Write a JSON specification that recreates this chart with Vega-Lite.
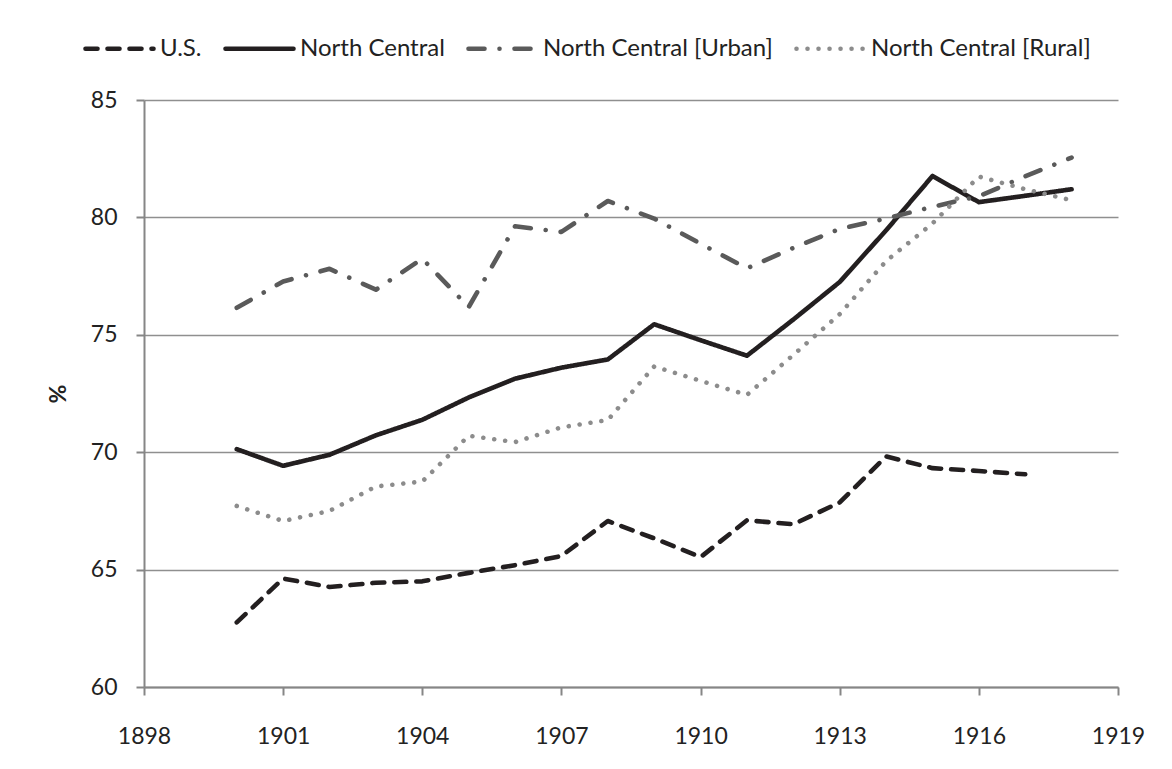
{
  "$schema": "https://vega.github.io/schema/vega-lite/v6.json",
  "autosize": {"type": "none"},
  "padding": {"left": 144, "top": 100, "right": 54, "bottom": 82},
  "width": 974,
  "height": 587,
  "background": "white",
  "config": {
    "view": {"stroke": null},
    "font": "Lato",
    "axis": {
      "labelFont": "Lato",
      "labelFontSize": 23,
      "labelColor": "#222222",
      "domainColor": "#868686",
      "domainWidth": 2,
      "tickColor": "#868686",
      "tickWidth": 2,
      "tickSize": 8,
      "titleFont": "Lato",
      "titleColor": "#222222"
    },
    "legend": {
      "labelFont": "Lato",
      "labelFontSize": 24,
      "labelColor": "#222222",
      "labelLimit": 0,
      "padding": 0
    }
  },
  "data": {
    "values": [
      {"year": 1900, "series": "U.S.", "value": 62.75},
      {"year": 1901, "series": "U.S.", "value": 64.62},
      {"year": 1902, "series": "U.S.", "value": 64.26},
      {"year": 1903, "series": "U.S.", "value": 64.44},
      {"year": 1904, "series": "U.S.", "value": 64.5},
      {"year": 1905, "series": "U.S.", "value": 64.86},
      {"year": 1906, "series": "U.S.", "value": 65.19},
      {"year": 1907, "series": "U.S.", "value": 65.58},
      {"year": 1908, "series": "U.S.", "value": 67.07},
      {"year": 1909, "series": "U.S.", "value": 66.33},
      {"year": 1910, "series": "U.S.", "value": 65.53},
      {"year": 1911, "series": "U.S.", "value": 67.1},
      {"year": 1912, "series": "U.S.", "value": 66.93},
      {"year": 1913, "series": "U.S.", "value": 67.86},
      {"year": 1914, "series": "U.S.", "value": 69.82},
      {"year": 1915, "series": "U.S.", "value": 69.32},
      {"year": 1916, "series": "U.S.", "value": 69.2},
      {"year": 1917, "series": "U.S.", "value": 69.06},

      {"year": 1900, "series": "North Central", "value": 70.13},
      {"year": 1901, "series": "North Central", "value": 69.42},
      {"year": 1902, "series": "North Central", "value": 69.89},
      {"year": 1903, "series": "North Central", "value": 70.72},
      {"year": 1904, "series": "North Central", "value": 71.38},
      {"year": 1905, "series": "North Central", "value": 72.33},
      {"year": 1906, "series": "North Central", "value": 73.13},
      {"year": 1907, "series": "North Central", "value": 73.6},
      {"year": 1908, "series": "North Central", "value": 73.95},
      {"year": 1909, "series": "North Central", "value": 75.45},
      {"year": 1910, "series": "North Central", "value": 74.77},
      {"year": 1911, "series": "North Central", "value": 74.11},
      {"year": 1912, "series": "North Central", "value": 75.65},
      {"year": 1913, "series": "North Central", "value": 77.25},
      {"year": 1914, "series": "North Central", "value": 79.45},
      {"year": 1915, "series": "North Central", "value": 81.76},
      {"year": 1916, "series": "North Central", "value": 80.65},
      {"year": 1917, "series": "North Central", "value": 80.92},
      {"year": 1918, "series": "North Central", "value": 81.2},

      {"year": 1900, "series": "North Central [Urban]", "value": 76.15},
      {"year": 1901, "series": "North Central [Urban]", "value": 77.27},
      {"year": 1902, "series": "North Central [Urban]", "value": 77.81},
      {"year": 1903, "series": "North Central [Urban]", "value": 76.92},
      {"year": 1904, "series": "North Central [Urban]", "value": 78.24},
      {"year": 1905, "series": "North Central [Urban]", "value": 76.18},
      {"year": 1906, "series": "North Central [Urban]", "value": 79.62},
      {"year": 1907, "series": "North Central [Urban]", "value": 79.38},
      {"year": 1908, "series": "North Central [Urban]", "value": 80.7},
      {"year": 1909, "series": "North Central [Urban]", "value": 79.95},
      {"year": 1910, "series": "North Central [Urban]", "value": 78.88},
      {"year": 1911, "series": "North Central [Urban]", "value": 77.83},
      {"year": 1912, "series": "North Central [Urban]", "value": 78.7},
      {"year": 1913, "series": "North Central [Urban]", "value": 79.51},
      {"year": 1914, "series": "North Central [Urban]", "value": 79.95},
      {"year": 1915, "series": "North Central [Urban]", "value": 80.45},
      {"year": 1916, "series": "North Central [Urban]", "value": 80.9},
      {"year": 1917, "series": "North Central [Urban]", "value": 81.75},
      {"year": 1918, "series": "North Central [Urban]", "value": 82.55},

      {"year": 1900, "series": "North Central [Rural]", "value": 67.71},
      {"year": 1901, "series": "North Central [Rural]", "value": 67.07},
      {"year": 1902, "series": "North Central [Rural]", "value": 67.5},
      {"year": 1903, "series": "North Central [Rural]", "value": 68.54},
      {"year": 1904, "series": "North Central [Rural]", "value": 68.75},
      {"year": 1905, "series": "North Central [Rural]", "value": 70.7},
      {"year": 1906, "series": "North Central [Rural]", "value": 70.43},
      {"year": 1907, "series": "North Central [Rural]", "value": 71.06},
      {"year": 1908, "series": "North Central [Rural]", "value": 71.37},
      {"year": 1909, "series": "North Central [Rural]", "value": 73.65},
      {"year": 1910, "series": "North Central [Rural]", "value": 73.04},
      {"year": 1911, "series": "North Central [Rural]", "value": 72.44},
      {"year": 1912, "series": "North Central [Rural]", "value": 74.14},
      {"year": 1913, "series": "North Central [Rural]", "value": 75.88},
      {"year": 1914, "series": "North Central [Rural]", "value": 78.14},
      {"year": 1915, "series": "North Central [Rural]", "value": 79.74},
      {"year": 1916, "series": "North Central [Rural]", "value": 81.74},
      {"year": 1917, "series": "North Central [Rural]", "value": 81.2},
      {"year": 1918, "series": "North Central [Rural]", "value": 80.73}
    ]
  },
  "mark": {"type": "line", "strokeWidth": 4.6, "strokeCap": "round", "strokeJoin": "round"},
  "encoding": {
    "x": {
      "field": "year",
      "type": "quantitative",
      "scale": {"domain": [1898, 1919], "nice": false, "zero": false},
      "axis": {
        "title": null,
        "values": [1898, 1901, 1904, 1907, 1910, 1913, 1916, 1919],
        "format": "d",
        "grid": false,
        "labelPadding": 30,
        "labelFlush": false,
        "labelOverlap": false
      }
    },
    "y": {
      "field": "value",
      "type": "quantitative",
      "scale": {"domain": [60, 85], "nice": false, "zero": false},
      "axis": {
        "title": "%",
        "titleFontSize": 23,
        "titleFontWeight": "bold",
        "titlePadding": 20,
        "values": [60, 65, 70, 75, 80, 85],
        "grid": true,
        "gridColor": "#8f8f8f",
        "gridWidth": 1.6,
        "labelPadding": 19,
        "labelFlush": false
      }
    },
    "color": {
      "field": "series",
      "type": "nominal",
      "scale": {
        "domain": ["U.S.", "North Central", "North Central [Urban]", "North Central [Rural]"],
        "range": ["#231f20", "#231f20", "#5a5a5a", "#8c8c8c"]
      },
      "legend": {
        "title": null,
        "orient": "none",
        "direction": "horizontal",
        "legendX": -61,
        "legendY": -88,
        "symbolType": "stroke",
        "symbolSize": 4624,
        "symbolStrokeWidth": 4.6,
        "labelOffset": 4,
        "columnPadding": 14,
        "encode": {"symbols": {"update": {"strokeCap": {"value": "round"}}}}
      }
    },
    "strokeDash": {
      "field": "series",
      "type": "nominal",
      "scale": {
        "domain": ["U.S.", "North Central", "North Central [Urban]", "North Central [Rural]"],
        "range": [[12, 10], [1, 0], [16, 15, 0.01, 15], [0.01, 11]]
      },
      "legend": {
        "title": null,
        "orient": "none",
        "direction": "horizontal",
        "legendX": -61,
        "legendY": -88,
        "symbolType": "stroke",
        "symbolSize": 4624,
        "symbolStrokeWidth": 4.6,
        "labelOffset": 4,
        "columnPadding": 14,
        "encode": {"symbols": {"update": {"strokeCap": {"value": "round"}}}}
      }
    }
  }
}
